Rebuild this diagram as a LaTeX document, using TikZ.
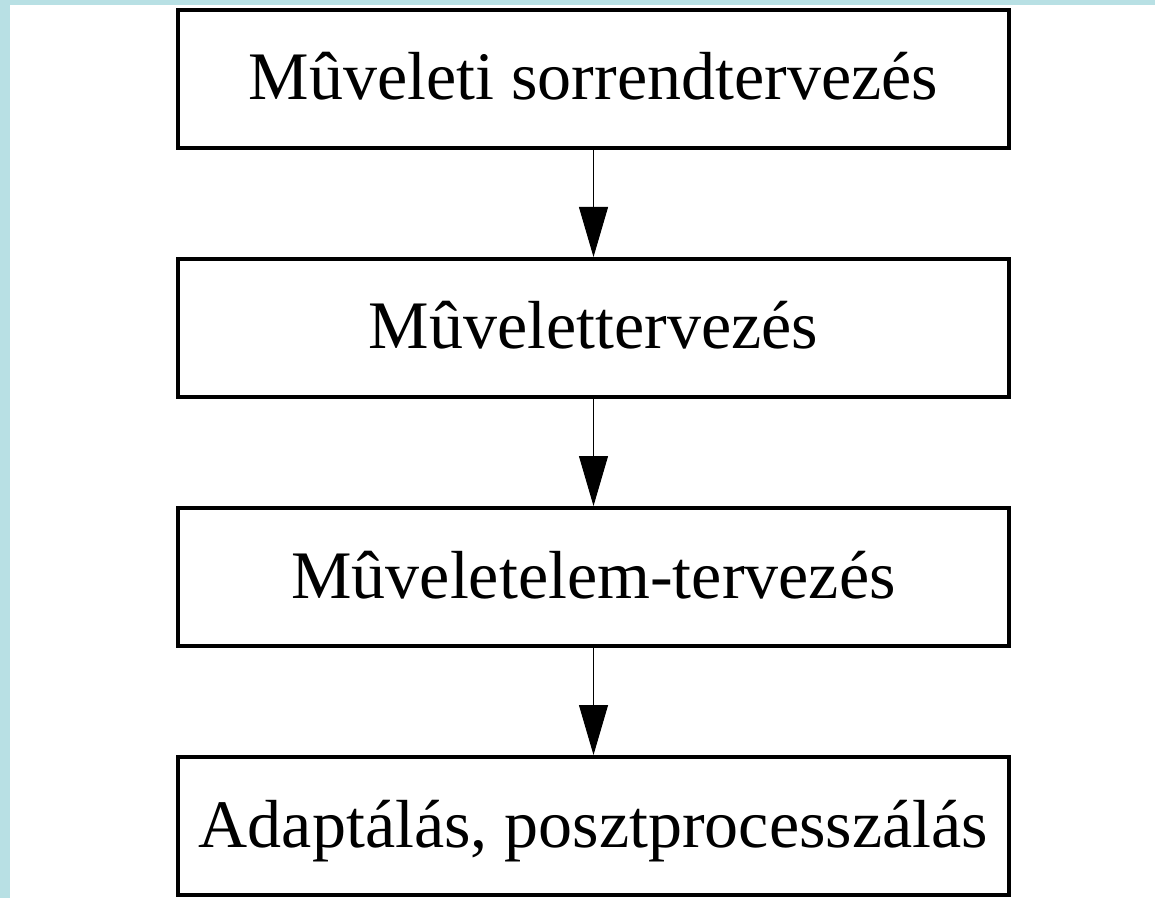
\documentclass[tikz,border=0pt]{standalone}
\usepackage{fontspec}
\setmainfont{Liberation Serif}
\usetikzlibrary{arrows.meta}
\usetikzlibrary{positioning}
\definecolor{frameblue}{RGB}{184,224,228}
\tikzstyle{block} = [draw, rectangle, line width=2pt, minimum height=69pt, minimum width=415.5pt, inner sep=0pt, text height=24pt, text depth=3pt, font=\fontsize{34}{41}\selectfont]
\tikzstyle{link} = [->, line width=0.5pt]

\begin{document}
\begin{tikzpicture}[x=0.5pt, y=-0.5pt, node distance=53.5pt, >={Triangle[width=14.5pt,length=25pt]}]
% Frame
\useasboundingbox (0,0) rectangle (1155,898);
\fill [frameblue] (0,0) rectangle (1155,5);
\fill [frameblue] (0,0) rectangle (10,898);

% Blocks
\node [block] (sequence) at (593.5,79) {Mûveleti sorrendtervezés};
\node [block, below=of sequence] (operation) {Mûvelettervezés};
\node [block, below=of operation] (element) {Mûveletelem-tervezés};
\node [block, below=of element] (adapt) {Adaptálás, posztprocesszálás};

% Top to bottom
\draw [link] (sequence) -- (operation);
\draw [link] (operation) -- (element);
\draw [link] (element) -- (adapt);
\end{tikzpicture}
\end{document}
